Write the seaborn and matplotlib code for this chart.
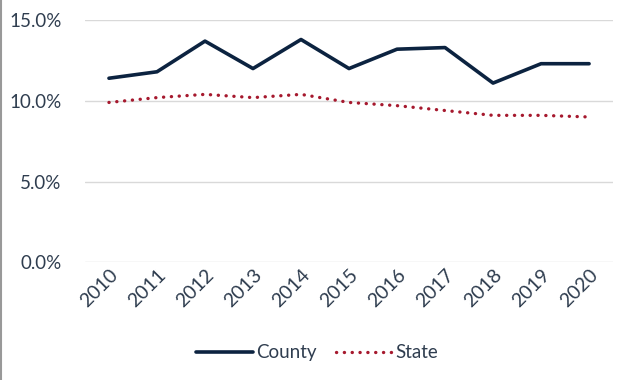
import numpy as np
import matplotlib.pyplot as plt
import matplotlib.lines as mlines
import pandas as pd
import seaborn as sns

years = ["2010", "2011", "2012", "2013", "2014", "2015", "2016", "2017", "2018", "2019", "2020"]
county = [11.4, 11.8, 13.7, 12.0, 13.8, 12.0, 13.2, 13.3, 11.1, 12.3, 12.3]
state = [9.9, 10.2, 10.4, 10.2, 10.4, 9.9, 9.7, 9.4, 9.1, 9.1, 9.0]

df = pd.DataFrame({"Year": years, "County": county, "State": state})
df_long = df.melt(id_vars="Year", var_name="Area", value_name="Rate")

sns.set_style("white")
plt.rcParams['font.family'] = ['Lato', 'DejaVu Sans']

navy = "#0c2340"
red = "#a6192e"
txt = "#2f3d4f"
dotted = (0, (0.05, 2.3))

fig, ax = plt.subplots(figsize=(6.34, 3.8), dpi=100)
fig.subplots_adjust(left=0.134, right=0.967, top=0.947, bottom=0.31)

sns.lineplot(data=df_long[df_long.Area == "County"], x="Year", y="Rate",
             color=navy, linewidth=2.6, ax=ax, label="County", sort=False)
sns.lineplot(data=df_long[df_long.Area == "State"], x="Year", y="Rate",
             color=red, linewidth=2.4, ax=ax, label="State", sort=False,
             linestyle=dotted, dash_capstyle="round")

ax.set_ylim(0, 15)
ax.set_yticks([0, 5, 10, 15])
ax.set_yticklabels([f"{v:.1f}%" for v in [0, 5, 10, 15]])
ax.set_xlim(-0.5, len(years) - 0.5)
ax.yaxis.grid(True, color="#d9d9d9", linewidth=1)
ax.set_axisbelow(True)
for s in ax.spines.values():
    s.set_visible(False)
ax.set_xlabel("")
ax.set_ylabel("")
ax.tick_params(axis="y", labelsize=13.5, colors=txt, length=0, pad=17)
ax.tick_params(axis="x", labelsize=14, colors=txt, length=0, pad=3)
plt.setp(ax.get_xticklabels(), rotation=45, ha="right", rotation_mode="anchor")

leg = ax.legend(loc="upper center", bbox_to_anchor=(0.44, -0.27), ncol=2, frameon=False,
                fontsize=13.5, handlelength=3.0, handletextpad=0.2, columnspacing=1.0)
for t in leg.get_texts():
    t.set_color(txt)
leg.legend_handles[1].set_linestyle(dotted)
leg.legend_handles[1].set_dash_capstyle("round")

fig.add_artist(mlines.Line2D([0.002, 0.002], [0, 1], color="#999999", linewidth=1.5,
                             transform=fig.transFigure))

plt.savefig("out.png", dpi=100)
